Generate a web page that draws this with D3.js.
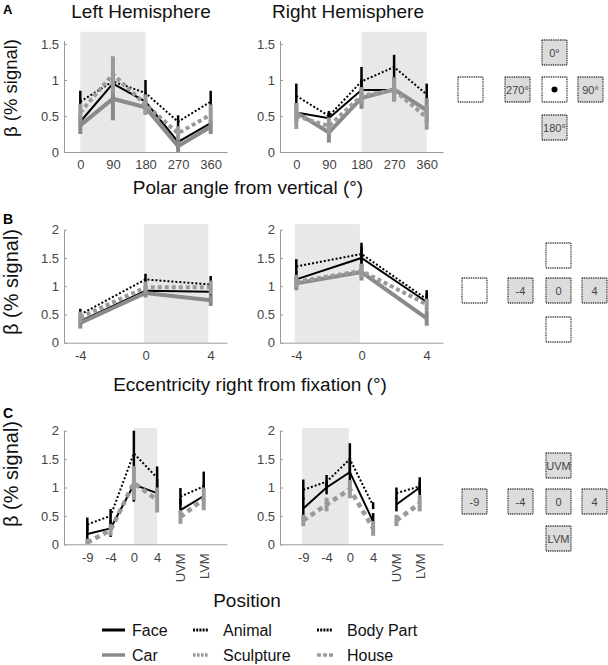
<!DOCTYPE html>
<html><head><meta charset="utf-8">
<script src="https://cdn.jsdelivr.net/npm/d3@7"></script>
<style>
body{margin:0;background:#fff}
svg{display:block}
text{font-family:"Liberation Sans",Arial,Helvetica,sans-serif}
</style>
</head><body>
<svg id="chart" width="608" height="665"></svg>
<script>
// ---------- categories / tick labels ----------
const polarAngles = [0, 90, 180, 270, 360];
const polarTickLabels = ["0", "90", "180", "270", "360"];
const eccPositions = [-4, 0, 4];
const eccTickLabels = ["-4", "0", "4"];
const positionLabels = ["-9", "-4", "0", "4", "UVM", "LVM"];
const yTicksA = [0, 0.5, 1, 1.5];
const yTicksBC = [0, 0.5, 1, 1.5, 2];

// ---------- Panel A (polar angle) ----------
const aLeftFace      = [0.42, 0.95, 0.70, 0.14, 0.40];
const aLeftFaceErr   = [0.12, 0.12, 0.12, 0.10, 0.12];
const aLeftAnimal    = [0.70, 0.98, 0.82, 0.42, 0.70];
const aLeftAnimalErr = [0.15, 0.15, 0.18, 0.09, 0.15];
const aLeftCar       = [0.37, 0.74, 0.62, 0.08, 0.35];
const aLeftCarErr    = [0.12, 0.30, 0.10, 0.08, 0.10];
const aLeftSculpt    = [0.55, 1.08, 0.66, 0.26, 0.52];
const aLeftSculptErr = [0.12, 0.25, 0.14, 0.10, 0.14];

const aRightFace      = [0.55, 0.47, 0.86, 0.86, 0.58];
const aRightFaceErr   = [0.10, 0.08, 0.15, 0.10, 0.10];
const aRightAnimal    = [0.78, 0.50, 0.98, 1.18, 0.80];
const aRightAnimalErr = [0.17, 0.07, 0.20, 0.17, 0.15];
const aRightCar       = [0.55, 0.27, 0.75, 0.87, 0.58];
const aRightCarErr    = [0.13, 0.14, 0.15, 0.17, 0.17];
const aRightSculpt    = [0.50, 0.36, 0.78, 0.86, 0.48];
const aRightSculptErr = [0.18, 0.12, 0.12, 0.15, 0.17];

// ---------- Panel B (eccentricity) ----------
const bLeftFace      = [0.38, 0.92, 0.90];
const bLeftFaceErr   = [0.10, 0.10, 0.10];
const bLeftAnimal    = [0.50, 1.12, 1.03];
const bLeftAnimalErr = [0.10, 0.10, 0.15];
const bLeftCar       = [0.35, 0.88, 0.75];
const bLeftCarErr    = [0.10, 0.08, 0.10];
const bLeftSculpt    = [0.45, 0.98, 0.98];
const bLeftSculptErr = [0.10, 0.10, 0.12];

const bRightFace      = [1.12, 1.50, 0.72];
const bRightFaceErr   = [0.15, 0.20, 0.15];
const bRightAnimal    = [1.35, 1.57, 0.77];
const bRightAnimalErr = [0.13, 0.20, 0.16];
const bRightCar       = [1.05, 1.25, 0.43];
const bRightCarErr    = [0.12, 0.15, 0.13];
const bRightSculpt    = [1.08, 1.27, 0.68];
const bRightSculptErr = [0.12, 0.12, 0.10];

// ---------- Panel C (position) ----------
const cLeftFace     = [0.18, 0.28, 1.05, 0.90, 0.60, 0.85];
const cLeftFaceErr  = [0.15, 0.15, 0.30, 0.25, 0.20, 0.20];
const cLeftBody     = [0.35, 0.50, 1.60, 1.17, 0.84, 1.02];
const cLeftBodyErr  = [0.12, 0.12, 0.40, 0.20, 0.15, 0.26];
const cLeftHouse    = [0.03, 0.25, 1.08, 0.78, 0.48, 0.80];
const cLeftHouseErr = [0.07, 0.10, 0.30, 0.22, 0.12, 0.20];

const cRightFace     = [0.63, 1.00, 1.27, 0.40, 0.70, 1.00];
const cRightFaceErr  = [0.20, 0.12, 0.25, 0.15, 0.12, 0.10];
const cRightBody     = [0.96, 1.10, 1.50, 0.68, 0.90, 1.02];
const cRightBodyErr  = [0.18, 0.12, 0.28, 0.06, 0.10, 0.16];
const cRightHouse    = [0.42, 0.70, 0.97, 0.28, 0.42, 0.72];
const cRightHouseErr = [0.10, 0.12, 0.16, 0.13, 0.10, 0.14];

// ---------- legend / diagram labels ----------
const legendNames = ["Face", "Animal", "Body Part", "Car", "Sculpture", "House"];
const diagramALabels = ["0°", "90°", "180°", "270°"];
const diagramBLabels = ["-4", "0", "4"];
const diagramCLabels = ["-9", "-4", "0", "4", "UVM", "LVM"];

// ---------- styles ----------
const styles = {
  "Face":      {color: "#000", w: 2,   dash: null,  ew: 2.5},
  "Animal":    {color: "#000", w: 2,   dash: "2,2", ew: 2.5},
  "Body Part": {color: "#000", w: 2,   dash: "2,2", ew: 2.5},
  "Car":       {color: "#8a8a8a", w: 4, dash: null,  ew: 4},
  "Sculpture": {color: "#9a9a9a", w: 4, dash: "4,3", ew: 4},
  "House":     {color: "#9a9a9a", w: 4.5, dash: "5,4", ew: 4}
};

const svg = d3.select("#chart");
const FONT = '"Liberation Sans",Arial,Helvetica,sans-serif';

function drawPanel(o) {
  const g = svg.append("g");
  const x = d3.scaleLinear().domain(o.xDomain).range([o.x0, o.x1]);
  const y = d3.scaleLinear().domain([0, o.yMax]).range([o.yBase, o.yTop]);

  g.append("rect")
    .attr("x", x(o.shade[0])).attr("width", x(o.shade[1]) - x(o.shade[0]))
    .attr("y", y(o.shadeTop)).attr("height", y(0) - y(o.shadeTop))
    .attr("fill", "#e8e8e8");

  const ya = g.append("g").attr("transform", `translate(${o.x0},0)`)
    .call(d3.axisLeft(y).tickValues(o.yTicks).tickFormat(d => String(d))
      .tickSizeInner(-3).tickSizeOuter(0).tickPadding(5));
  const xa = g.append("g").attr("transform", `translate(0,${o.yBase})`)
    .call(d3.axisBottom(x).tickValues(o.xTicks).tickFormat((d, i) => o.xLabels[i])
      .tickSizeInner(0).tickSizeOuter(0).tickPadding(8));
  [ya, xa].forEach(a => {
    a.select(".domain").attr("stroke", "#9a9a9a");
    a.selectAll(".tick line").attr("stroke", "#9a9a9a");
    a.selectAll("text").attr("fill", "#444").style("font-size", "13px").style("font-family", FONT);
  });
  if (o.rotateFrom !== undefined) {
    xa.selectAll(".tick text").filter((d, i) => i >= o.rotateFrom)
      .attr("transform", "rotate(-90)")
      .attr("text-anchor", "end")
      .attr("x", -9).attr("y", 0).attr("dy", "0.35em");
  }

  const lineGen = d3.line().x(d => x(d[0])).y(d => y(d[1]));
  o.series.forEach(s => {
    const st = styles[s.name];
    o.segments.forEach(seg => {
      const pts = seg.map(i => [o.xTicks[i], s.values[i]]);
      g.append("path").attr("d", lineGen(pts))
        .attr("fill", "none").attr("stroke", st.color).attr("stroke-width", st.w)
        .attr("stroke-dasharray", st.dash);
    });
    s.values.forEach((v, i) => {
      const lo = Math.max(0, v - s.err[i]), hi = v + s.err[i];
      g.append("line")
        .attr("x1", x(o.xTicks[i])).attr("x2", x(o.xTicks[i]))
        .attr("y1", y(lo)).attr("y2", y(hi))
        .attr("stroke", st.color).attr("stroke-width", st.ew);
    });
  });
}

drawPanel({x0: 64, x1: 227, yBase: 152, yTop: 40.4, yMax: 1.55, xDomain: [-45, 405],
  yTicks: yTicksA, xTicks: polarAngles, xLabels: polarTickLabels,
  shade: [0, 180], shadeTop: 1.67, segments: [[0, 1, 2, 3, 4]],
  series: [
    {name: "Face", values: aLeftFace, err: aLeftFaceErr},
    {name: "Animal", values: aLeftAnimal, err: aLeftAnimalErr},
    {name: "Car", values: aLeftCar, err: aLeftCarErr},
    {name: "Sculpture", values: aLeftSculpt, err: aLeftSculptErr}
  ]});
drawPanel({x0: 280, x1: 443, yBase: 152, yTop: 40.4, yMax: 1.55, xDomain: [-45, 405],
  yTicks: yTicksA, xTicks: polarAngles, xLabels: polarTickLabels,
  shade: [180, 360], shadeTop: 1.67, segments: [[0, 1, 2, 3, 4]],
  series: [
    {name: "Face", values: aRightFace, err: aRightFaceErr},
    {name: "Animal", values: aRightAnimal, err: aRightAnimalErr},
    {name: "Car", values: aRightCar, err: aRightCarErr},
    {name: "Sculpture", values: aRightSculpt, err: aRightSculptErr}
  ]});

drawPanel({x0: 64, x1: 227, yBase: 342.7, yTop: 229.7, yMax: 2, xDomain: [-5, 5],
  yTicks: yTicksBC, xTicks: eccPositions, xLabels: eccTickLabels,
  shade: [-0.1, 3.85], shadeTop: 2.1, segments: [[0, 1, 2]],
  series: [
    {name: "Face", values: bLeftFace, err: bLeftFaceErr},
    {name: "Animal", values: bLeftAnimal, err: bLeftAnimalErr},
    {name: "Car", values: bLeftCar, err: bLeftCarErr},
    {name: "Sculpture", values: bLeftSculpt, err: bLeftSculptErr}
  ]});
drawPanel({x0: 280, x1: 443, yBase: 342.7, yTop: 229.7, yMax: 2, xDomain: [-5, 5],
  yTicks: yTicksBC, xTicks: eccPositions, xLabels: eccTickLabels,
  shade: [-4.1, -0.1], shadeTop: 2.1, segments: [[0, 1, 2]],
  series: [
    {name: "Face", values: bRightFace, err: bRightFaceErr},
    {name: "Animal", values: bRightAnimal, err: bRightAnimalErr},
    {name: "Car", values: bRightCar, err: bRightCarErr},
    {name: "Sculpture", values: bRightSculpt, err: bRightSculptErr}
  ]});

const cIdx = positionLabels.map((d, i) => i + 1);
drawPanel({x0: 64, x1: 227, yBase: 544.3, yTop: 430.7, yMax: 2, xDomain: [0, 7],
  yTicks: yTicksBC, xTicks: cIdx, xLabels: positionLabels, rotateFrom: 4,
  shade: [3, 4], shadeTop: 2.05, segments: [[0, 1, 2, 3], [4, 5]],
  series: [
    {name: "Face", values: cLeftFace, err: cLeftFaceErr},
    {name: "Body Part", values: cLeftBody, err: cLeftBodyErr},
    {name: "House", values: cLeftHouse, err: cLeftHouseErr}
  ]});
drawPanel({x0: 280, x1: 443, yBase: 544.3, yTop: 430.7, yMax: 2, xDomain: [0, 7],
  yTicks: yTicksBC, xTicks: cIdx, xLabels: positionLabels, rotateFrom: 4,
  shade: [0.95, 2.95], shadeTop: 2.05, segments: [[0, 1, 2, 3], [4, 5]],
  series: [
    {name: "Face", values: cRightFace, err: cRightFaceErr},
    {name: "Body Part", values: cRightBody, err: cRightBodyErr},
    {name: "House", values: cRightHouse, err: cRightHouseErr}
  ]});

function txt(x, y, s, size, opts = {}) {
  const t = svg.append("text").attr("x", x).attr("y", y).text(s)
    .style("font-size", size + "px").attr("fill", opts.fill || "#111")
    .attr("text-anchor", opts.anchor || "middle");
  if (opts.bold) t.style("font-weight", "bold");
  if (opts.rotate) t.attr("transform", `rotate(-90,${x},${y})`);
  return t;
}
txt(3, 14, "A", 13, {anchor: "start", bold: true, fill: "#000"});
txt(3, 224, "B", 14, {anchor: "start", bold: true, fill: "#000"});
txt(3, 418, "C", 14, {anchor: "start", bold: true, fill: "#000"});
txt(141, 18, "Left Hemisphere", 19);
txt(348, 18, "Right Hemisphere", 19);
txt(17, 88, "β (% signal)", 18.5, {rotate: true});
txt(18, 282, "β (% signal)", 20, {rotate: true});
txt(18, 474, "β (% signal)", 20, {rotate: true});
txt(248, 194, "Polar angle from vertical (°)", 19);
txt(250, 391, "Eccentricity right from fixation (°)", 19);
txt(247, 607, "Position", 19);

const legendX = [102, 193, 317];
const legendTextX = [132, 223, 347];
const legendY = [630, 655];
legendNames.forEach((n, i) => {
  const col = i % 3, row = Math.floor(i / 3);
  const st = styles[n];
  const solid = st.dash === null;
  const len = solid ? 23 : (n === "House" ? 18 : 16);
  svg.append("line").attr("x1", legendX[col]).attr("x2", legendX[col] + len)
    .attr("y1", legendY[row]).attr("y2", legendY[row])
    .attr("stroke", st.color).attr("stroke-width", row === 0 ? 3 : 3.5)
    .attr("stroke-dasharray", n === "Animal" || n === "Body Part" ? "2,1.2" : (n === "Sculpture" ? "2.6,1.4" : (n === "House" ? "4,2" : null)));
  txt(legendTextX[col], legendY[row] + 6, n, 16, {anchor: "start", fill: "#111"});
});

function box(x, y, label, filled, dot) {
  svg.append("rect").attr("x", x).attr("y", y).attr("width", 25).attr("height", 25)
    .attr("fill", filled ? "#dcdcdc" : "#fff")
    .attr("stroke", "#333").attr("stroke-width", 1.3).attr("stroke-dasharray", "1,0.8");
  if (label) txt(x + 12.5, y + 16.5, label, 11, {fill: "#444"});
  if (dot) svg.append("circle").attr("cx", x + 12.5).attr("cy", y + 12.5).attr("r", 3).attr("fill", "#000");
}
box(458, 77, null, false);
box(505, 77, diagramALabels[3], true);
box(542, 77, null, false, true);
box(578, 77, diagramALabels[1], true);
box(542, 40, diagramALabels[0], true);
box(542, 115, diagramALabels[2], true);
box(546, 243, null, false);
box(462, 278, null, false);
box(508, 278, diagramBLabels[0], true);
box(546, 278, diagramBLabels[1], true);
box(582, 278, diagramBLabels[2], true);
box(546, 317, null, false);
box(546, 453, diagramCLabels[4], true);
box(462, 489, diagramCLabels[0], true);
box(508, 489, diagramCLabels[1], true);
box(546, 489, diagramCLabels[2], true);
box(582, 489, diagramCLabels[3], true);
box(546, 526, diagramCLabels[5], true);
</script>
</body></html>
